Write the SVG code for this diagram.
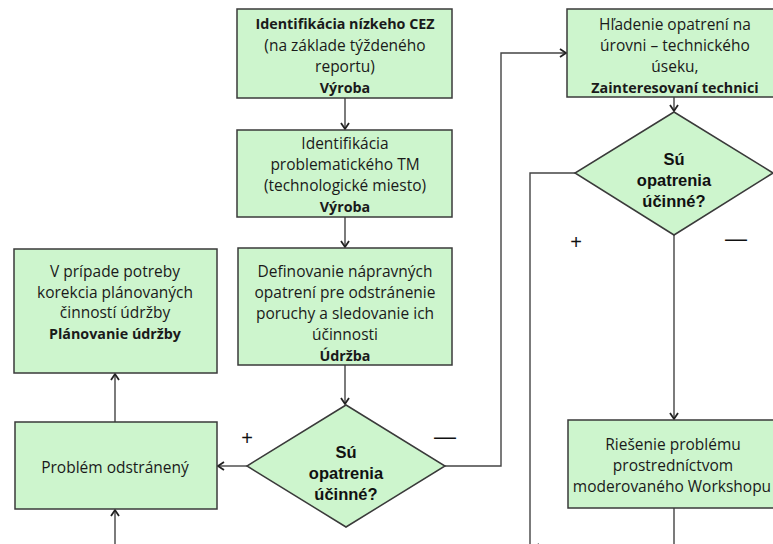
<svg xmlns="http://www.w3.org/2000/svg" width="773" height="544" viewBox="0 0 773 544">
<defs>
<marker id="arr" markerUnits="userSpaceOnUse" markerWidth="12" markerHeight="14" refX="7" refY="5" orient="auto" viewBox="0 0 12 10">
<path d="M1,1 L7,5 L1,9" fill="none" stroke="#222" stroke-width="1.8"/>
</marker>
<style>
.box{fill:#cdf5cd;stroke:#3a3a3a;stroke-width:1.5}
.t{font-family:"Open Sans","Noto Sans",sans-serif;font-size:15.5px;fill:#1a1a1a;text-anchor:middle}
.b{font-weight:bold;font-size:14.3px}
.d{font-family:"Liberation Sans",Arial,sans-serif;font-size:16.5px;font-weight:bold;fill:#111;text-anchor:middle}
.c{fill:none;stroke:#444;stroke-width:1.4}
.lbl{font-family:"Liberation Sans",Arial,sans-serif;fill:#111;text-anchor:middle}
</style>
</defs>
<rect width="773" height="544" fill="#fff"/>
<g id="connectors">
<path class="c" d="M345,98 V129" marker-end="url(#arr)"/>
<path class="c" d="M345,217 V247" marker-end="url(#arr)"/>
<path class="c" d="M345,365 V404" marker-end="url(#arr)"/>
<path class="c" d="M247,466 H218" marker-end="url(#arr)"/>
<path class="c" d="M115,422 V374" marker-end="url(#arr)"/>
<path class="c" d="M115,550 V510" marker-end="url(#arr)"/>
<path class="c" d="M445,466 H501 V53 H566" marker-end="url(#arr)"/>
<path class="c" d="M674,97 V111" marker-end="url(#arr)"/>
<path class="c" d="M575,173 H530 V560"/>
<path class="c" d="M674,235 V419" marker-end="url(#arr)"/>
<path class="c" d="M674,508 V548 H533" marker-end="url(#arr)"/>
</g>
<g id="n1">
<rect class="box" x="237" y="9" width="215" height="89"/>
<text class="t" x="345" y="29"><tspan class="b">Identifikácia nízkeho CEZ</tspan><tspan x="345" y="50.5">(na základe týždeného</tspan><tspan x="345" y="72">reportu)</tspan><tspan x="345" y="93" class="b">Výroba</tspan></text>
</g>
<g id="n2">
<rect class="box" x="237" y="130" width="215" height="87"/>
<text class="t" x="345" y="149">Identifikácia<tspan x="345" y="170">problematického TM</tspan><tspan x="345" y="191">(technologické miesto)</tspan><tspan x="345" y="212" class="b">Výroba</tspan></text>
</g>
<g id="n3">
<rect class="box" x="238" y="248" width="214" height="117"/>
<text class="t" x="345" y="277">Definovanie nápravných<tspan x="345" y="298">opatrení pre odstránenie</tspan><tspan x="345" y="319">poruchy a sledovanie ich</tspan><tspan x="345" y="340">účinnosti</tspan><tspan x="345" y="361" class="b">Údržba</tspan></text>
</g>
<g id="n4">
<rect class="box" x="14" y="249" width="203" height="124"/>
<text class="t" x="115" y="277">V prípade potreby<tspan x="115" y="297.5">korekcia plánovaných</tspan><tspan x="115" y="318">činností údržby</tspan><tspan x="115" y="339" class="b">Plánovanie údržby</tspan></text>
</g>
<g id="n5">
<rect class="box" x="15" y="422" width="202" height="87"/>
<text class="t" x="115" y="473">Problém odstránený</text>
</g>
<g id="d1">
<polygon class="box" points="346,405 445,466 346,527 247,466"/>
<text class="d" x="346" y="458">Sú<tspan x="346" y="479">opatrenia</tspan><tspan x="346" y="500">účinné?</tspan></text>
<text class="lbl" x="247" y="445" font-size="20">+</text>
<text class="lbl" x="445" y="444" font-size="22">—</text>
</g>
<g id="n6">
<rect class="box" x="567" y="9" width="213" height="88"/>
<text class="t" x="675" y="30">Hľadenie opatrení na<tspan x="675" y="51">úrovni – technického</tspan><tspan x="675" y="72">úseku,</tspan><tspan x="675" y="93" class="b">Zainteresovaní technici</tspan></text>
</g>
<g id="d2">
<polygon class="box" points="674,112 773,173 674,235 575,173"/>
<text class="d" x="674" y="165">Sú<tspan x="674" y="186">opatrenia</tspan><tspan x="674" y="207">účinné?</tspan></text>
<text class="lbl" x="576" y="249" font-size="20">+</text>
<text class="lbl" x="736" y="246" font-size="22">—</text>
</g>
<g id="n7">
<rect class="box" x="568" y="420" width="212" height="88"/>
<text class="t" x="673" y="450">Riešenie problému<tspan x="673" y="470.5">prostredníctvom</tspan><tspan x="672" y="492">moderovaného Workshopu</tspan></text>
</g>
</svg>
